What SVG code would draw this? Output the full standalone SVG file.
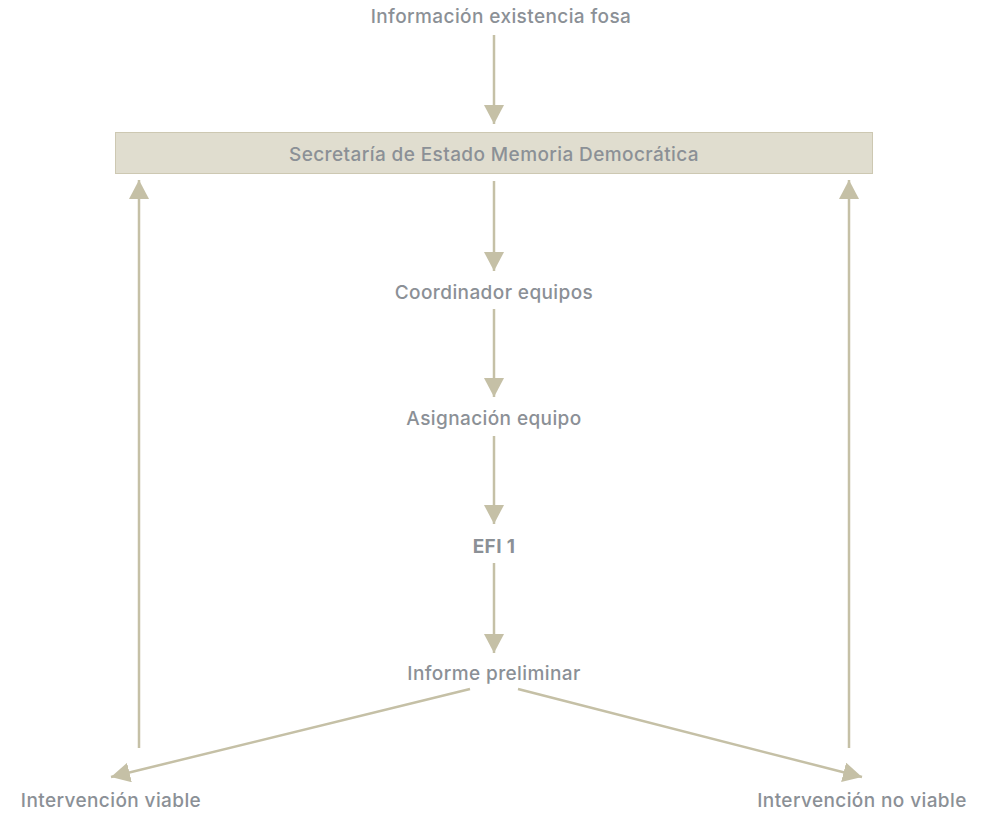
<svg xmlns="http://www.w3.org/2000/svg" width="997" height="815" viewBox="0 0 997 815">
<defs>
<marker id="ah" markerUnits="userSpaceOnUse" markerWidth="22" markerHeight="20" refX="19" refY="10" orient="auto">
<path d="M0,0 L19,10 L0,20 Z" fill="#c5c0a6"/>
</marker>
<style>
.t{font-family:Inter,"Liberation Sans",Arial,sans-serif;font-size:19px;letter-spacing:0.4px;fill:#8b9096;text-anchor:middle;font-weight:500}
.b{font-weight:700}
.c{stroke:#c5c0a6;stroke-width:2.5;fill:none;marker-end:url(#ah)}
</style>
</defs>
<rect width="997" height="815" fill="#ffffff"/>
<g id="connectors">
<line class="c" x1="494" y1="35" x2="494" y2="124"/>
<line class="c" x1="494" y1="181" x2="494" y2="271"/>
<line class="c" x1="494" y1="309" x2="494" y2="397"/>
<line class="c" x1="494" y1="436" x2="494" y2="524"/>
<line class="c" x1="494" y1="563" x2="494" y2="653"/>
<line class="c" x1="139" y1="748" x2="139" y2="180"/>
<line class="c" x1="849" y1="748" x2="849" y2="180"/>
<line class="c" x1="470" y1="689" x2="111" y2="777"/>
<line class="c" x1="518" y1="689" x2="862" y2="777"/>
</g>
<g id="n-info"><text class="t" x="501" y="23">Información existencia fosa</text></g>
<g id="n-secretaria">
<rect x="115.5" y="132.5" width="757" height="41" fill="#e0ddcf" stroke="#cdc8b2" stroke-width="1"/>
<text class="t" x="494" y="161">Secretaría de Estado Memoria Democrática</text>
</g>
<g id="n-coord"><text class="t" x="494" y="299">Coordinador equipos</text></g>
<g id="n-asig"><text class="t" x="494" y="425">Asignación equipo</text></g>
<g id="n-efi"><text class="t b" x="494" y="553">EFI 1</text></g>
<g id="n-informe"><text class="t" x="494" y="680">Informe preliminar</text></g>
<g id="n-viable"><text class="t" x="111" y="807">Intervención viable</text></g>
<g id="n-noviable"><text class="t" x="862" y="807">Intervención no viable</text></g>
</svg>
